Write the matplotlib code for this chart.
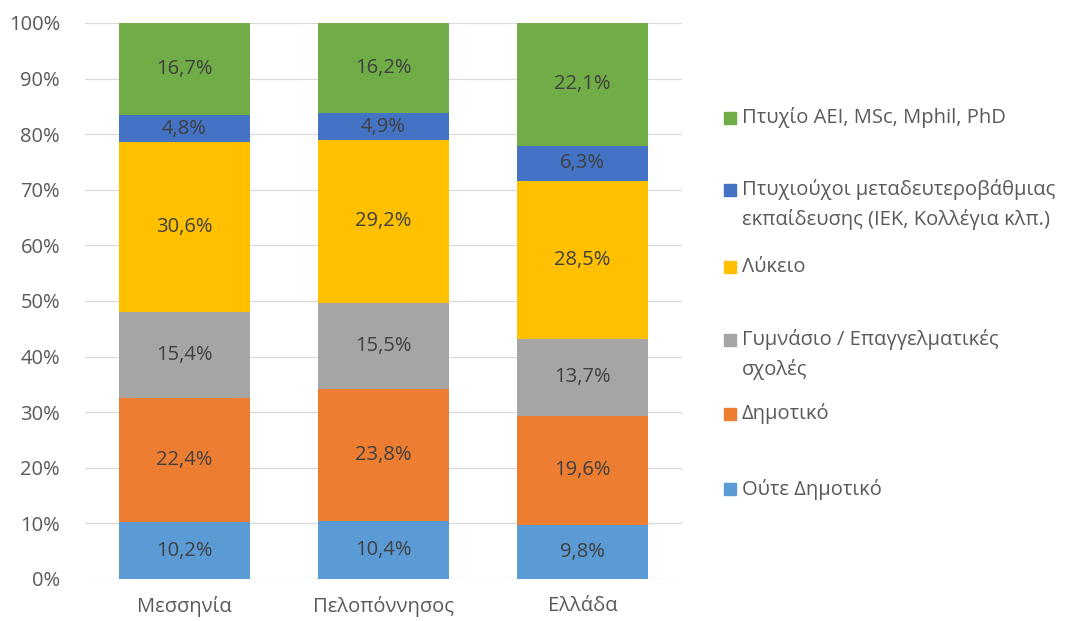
import matplotlib
matplotlib.use('Agg')
import matplotlib.pyplot as plt
import numpy as np
from matplotlib.patches import Rectangle

plt.rcParams['font.family'] = ['Open Sans', 'DejaVu Sans']

# categories and series (bottom -> top)
regions = ['Μεσσηνία', 'Πελοπόννησος', 'Ελλάδα']
levels = ['Ούτε Δημοτικό', 'Δημοτικό', 'Γυμνάσιο / Επαγγελματικές\nσχολές', 'Λύκειο',
          'Πτυχιούχοι μεταδευτεροβάθμιας\nεκπαίδευσης (ΙΕΚ, Κολλέγια κλπ.)',
          'Πτυχίο ΑΕΙ, MSc, Mphil, PhD']
oute_dimotiko = [10.2, 10.4, 9.8]
dimotiko = [22.4, 23.8, 19.6]
gymnasio = [15.4, 15.5, 13.7]
lykeio = [30.6, 29.2, 28.5]
iek = [4.8, 4.9, 6.3]
aei = [16.7, 16.2, 22.1]
yticks = [0, 10, 20, 30, 40, 50, 60, 70, 80, 90, 100]

series = [oute_dimotiko, dimotiko, gymnasio, lykeio, iek, aei]
colors = ['#5B9BD5', '#ED7D31', '#A5A5A5', '#FFC000', '#4472C4', '#70AD47']
TXT = '#595959'
FS = 14.5

fig = plt.figure(figsize=(10.72, 6.21), dpi=100)
ax = fig.add_axes([85/1072, 1-579/621, (682-85)/1072, (579-23)/621])

x = np.arange(len(regions))
bottom = np.zeros(len(regions))
for vals, c in zip(series, colors):
    v = np.array(vals)
    ax.bar(x, v, 0.66, bottom=bottom, color=c, zorder=3)
    for xi, b, h in zip(x, bottom, v):
        ax.text(xi, b + h/2, f'{h:.1f}'.replace('.', ',') + '%', ha='center', va='center',
                fontsize=FS, color='#404040', zorder=4)
    bottom += v

ax.set_xlim(-0.5, 2.5)
ax.set_ylim(0, 100)
ax.set_yticks(yticks)
ax.set_yticklabels([f'{t}%' for t in yticks])
ax.set_xticks(x)
ax.set_xticklabels(regions)
ax.tick_params(axis='both', length=0, labelsize=FS, labelcolor=TXT)
ax.tick_params(axis='y', pad=18)
ax.tick_params(axis='x', pad=12)
ax.grid(axis='y', color='#D9D9D9', lw=0.9, zorder=0)
for s in ax.spines.values():
    s.set_visible(False)

# legend drawn by hand (marker aligned to first line)
leg_y = [489, 414, 340, 267, 190, 118]   # px from top, first line
for lab, c, yp in zip(levels, colors, leg_y):
    fig.patches.append(Rectangle((724/1072, 1-(yp+6)/621), 12/1072, 12/621,
                                 transform=fig.transFigure, color=c))
    for k, line in enumerate(lab.split('\n')):
        fig.text(742/1072, 1-(yp + 30*k)/621, line, ha='left', va='center',
                 fontsize=FS, color=TXT)

fig.savefig('out.png', dpi=100)
